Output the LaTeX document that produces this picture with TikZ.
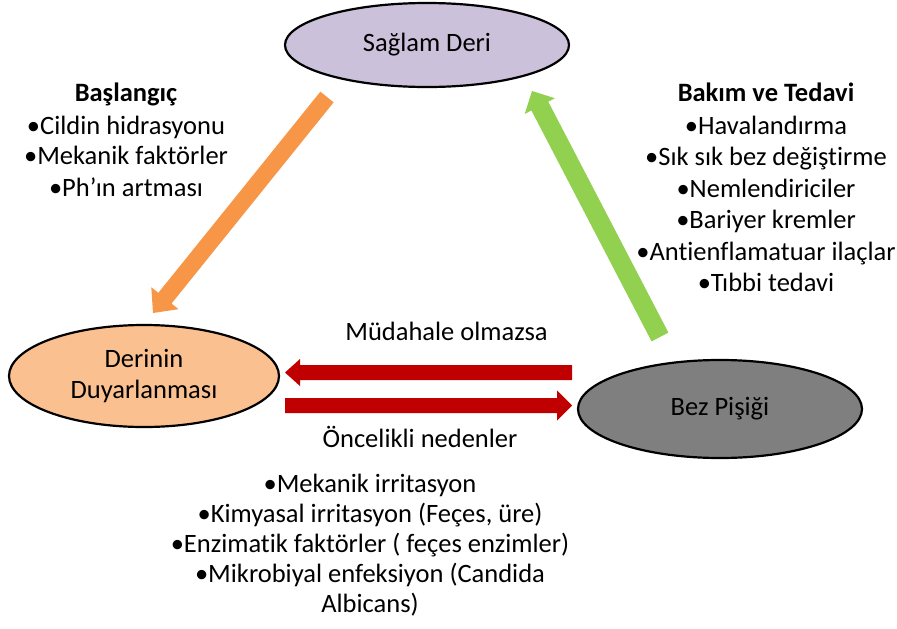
\documentclass[tikz,border=0pt]{standalone}
\usepackage{fontspec}
\setmainfont{Carlito}[Ligatures=NoCommon]
\usetikzlibrary{shapes.geometric,calc}
\definecolor{lav}{HTML}{CCC1DA}
\definecolor{peach}{HTML}{FAC090}
\definecolor{bezgray}{HTML}{7F7F7F}
\definecolor{darkred}{HTML}{C00000}
\definecolor{orangearr}{HTML}{F79646}
\definecolor{greenarr}{HTML}{92D050}
% #1 start, #2 tip, #3 shaft half width, #4 head half width, #5 head length, #6 colour
\newcommand\blockarrow[6]{%
  \coordinate (ba) at ($(#2)!#5!(#1)$);
  \fill[#6] ($(#1)!#3!90:(#2)$) -- ($(ba)!#3!90:(#2)$) -- ($(ba)!#4!90:(#2)$) -- (#2)
    -- ($(ba)!#4!-90:(#2)$) -- ($(ba)!#3!-90:(#2)$) -- ($(#1)!#3!-90:(#2)$) -- cycle;}
\tikzset{
  txt/.style={font=\fontsize{26.5}{31}\selectfont, anchor=base, inner sep=0pt},
  ttl/.style={txt, font=\fontsize{26.5}{31}\selectfont\bfseries},
  oval/.style={ellipse, draw=black, line width=2.2pt, inner sep=0pt, align=center,
    font=\fontsize{26.5}{31}\selectfont}
}
\begin{document}
\begin{tikzpicture}[x=1pt,y=-1pt]
\useasboundingbox (0,0) rectangle (897,629);

% ellipses
\node[oval, fill=lav, minimum width=284pt, minimum height=84pt] (saglam) at (427,45) {Sağlam Deri};
\node[oval, fill=peach, minimum width=270pt, minimum height=102pt] (derinin) at (144,376) {Derinin\\Duyarlanması};
\node[oval, fill=bezgray, minimum width=284pt, minimum height=98pt] (bez) at (720,409) {Bez Pişiği};

% arrow end points
\coordinate (oS) at (327,97);
\coordinate (oT) at (153,313);
\coordinate (gS) at (660,337);
\coordinate (gT) at (532,91);
\coordinate (r1S) at (572,372.5);
\coordinate (r1T) at (285,372.5);
\coordinate (r2S) at (285,405.5);
\coordinate (r2T) at (572,405.5);

\blockarrow{oS}{oT}{8.5pt}{17.5pt}{19pt}{orangearr}
\blockarrow{gS}{gT}{9.5pt}{17pt}{17pt}{greenarr}
\blockarrow{r1S}{r1T}{7.5pt}{13.5pt}{15pt}{darkred}
\blockarrow{r2S}{r2T}{7.5pt}{15pt}{15pt}{darkred}

% left list
\node[ttl] (l0) at (126,101.5) {Başlangıç};
\node[txt] (l1) at (126,134) {•Cildin hidrasyonu};
\node[txt] (l2) at (126,164.5) {•Mekanik faktörler};
\node[txt] (l3) at (126,196) {•Ph’ın artması};

% right list
\node[ttl] (r0) at (766,101.5) {Bakım ve Tedavi};
\node[txt] (r1) at (766,134) {•Havalandırma};
\node[txt] (r2) at (766,165.5) {•Sık sık bez değiştirme};
\node[txt] (r3) at (766,197) {•Nemlendiriciler};
\node[txt] (r4) at (766,228.5) {•Bariyer kremler};
\node[txt] (r5) at (766,260) {•Antienflamatuar ilaçlar};
\node[txt] (r6) at (766,291.5) {•Tıbbi tedavi};

% arrow labels
\node[txt] (mud) at (446.5,340) {Müdahale olmazsa};
\node[txt] (onc) at (420,447) {Öncelikli nedenler};

% bottom list
\node[txt] (b1) at (370,492) {•Mekanik irritasyon};
\node[txt] (b2) at (370,522.5) {•Kimyasal irritasyon (Feçes, üre)};
\node[txt] (b3) at (370,552.5) {•Enzimatik faktörler ( feçes enzimler)};
\node[txt] (b4) at (370,582.5) {•Mikrobiyal enfeksiyon (Candida};
\node[txt] (b5) at (370,612.5) {Albicans)};
\end{tikzpicture}
\end{document}
